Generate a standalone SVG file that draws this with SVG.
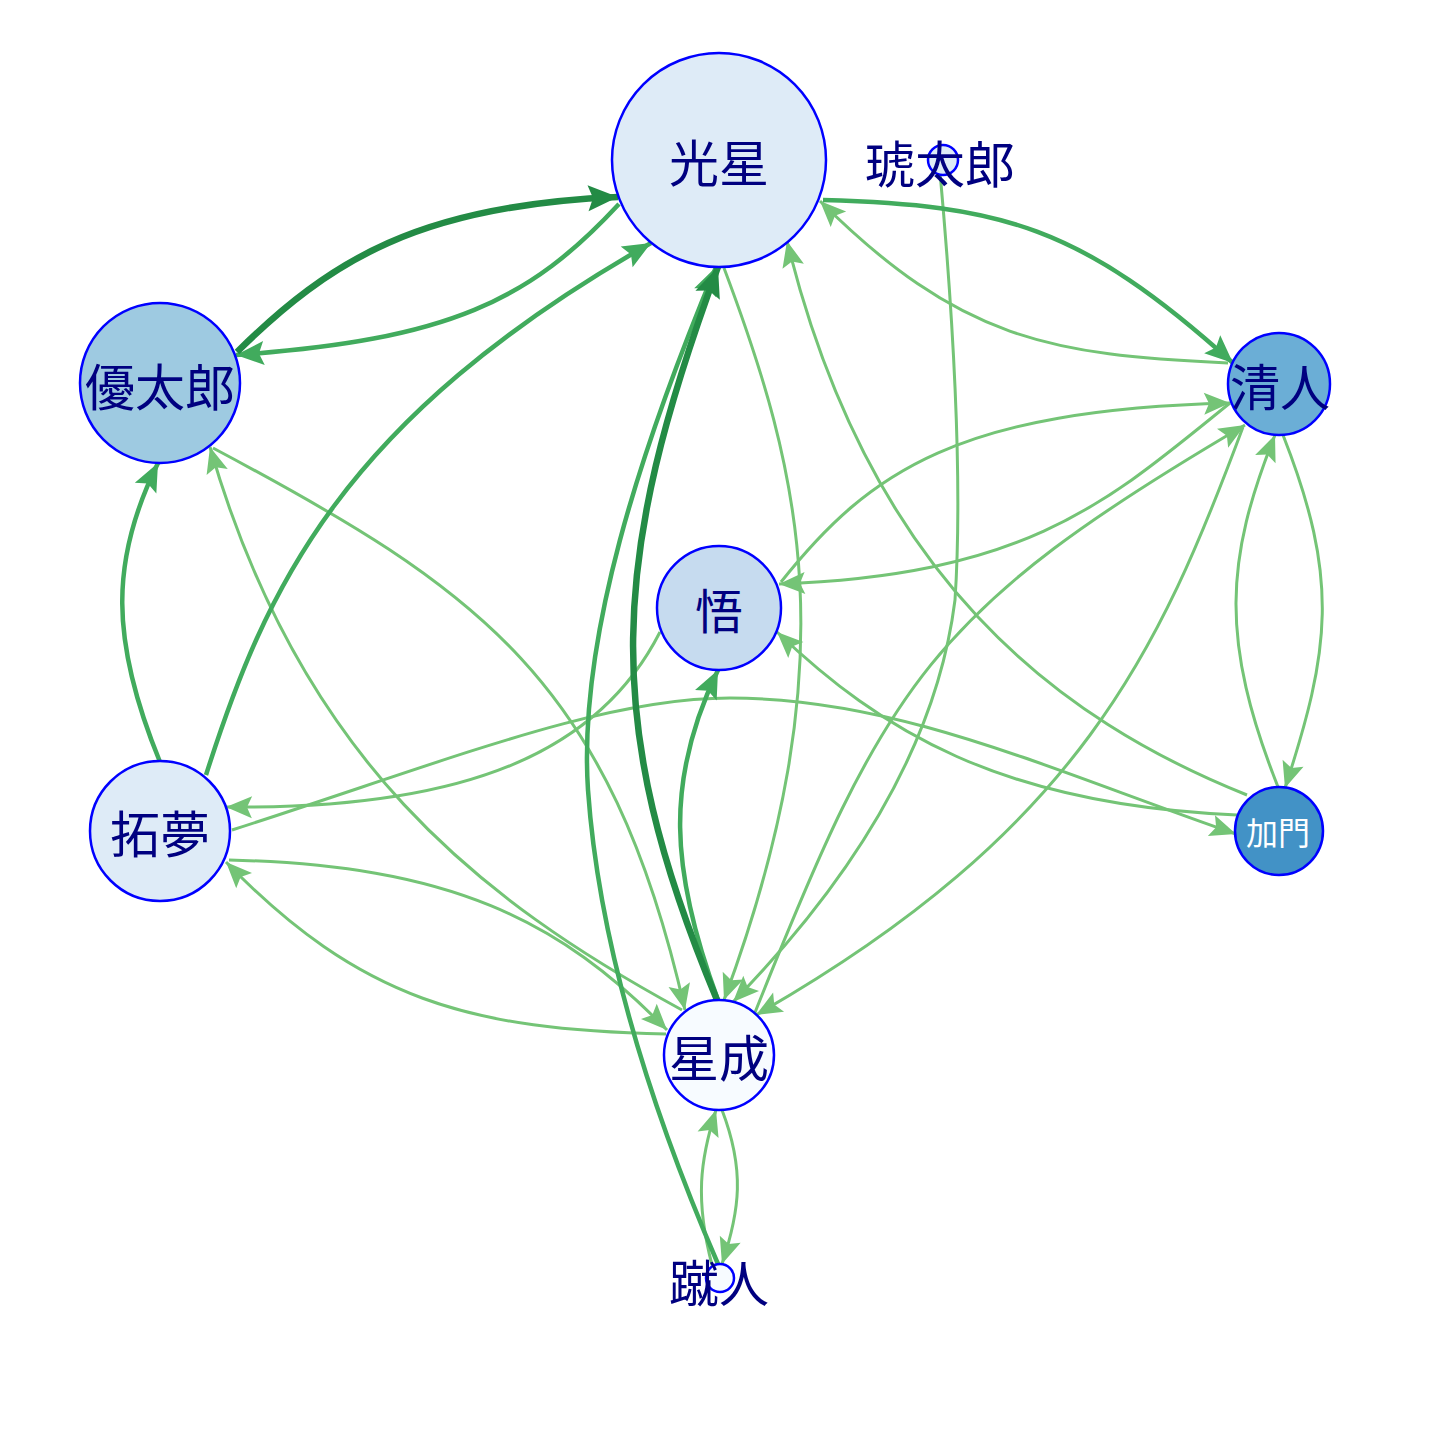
<svg xmlns="http://www.w3.org/2000/svg" width="1440" height="1440" viewBox="0 0 1440 1440">
<style>
.e{fill:none;stroke-linecap:butt}
.d{stroke:#238b45;stroke-width:6.5;marker-end:url(#aD)}
.m{stroke:#41ab5d;stroke-width:4.5;marker-end:url(#aM)}
.l{stroke:#74c476;stroke-width:3;marker-end:url(#aL)}
.n{stroke:#0000ff;stroke-width:2.5}
.t{font-family:"Noto Sans CJK JP","Noto Sans CJK SC",sans-serif;font-size:50px;fill:#000080;text-anchor:middle;dominant-baseline:central}
</style>
<defs>
<marker id="aD" viewBox="-32 -15 34 30" refX="0" refY="0" markerWidth="34" markerHeight="30" markerUnits="userSpaceOnUse" orient="auto"><path d="M0,0 L-30,-13 L-25,0 L-30,13 Z" fill="#238b45"/></marker>
<marker id="aM" viewBox="-30 -14 32 28" refX="0" refY="0" markerWidth="32" markerHeight="28" markerUnits="userSpaceOnUse" orient="auto"><path d="M0,0 L-28,-12 L-23,0 L-28,12 Z" fill="#41ab5d"/></marker>
<marker id="aL" viewBox="-28 -13 30 26" refX="0" refY="0" markerWidth="30" markerHeight="26" markerUnits="userSpaceOnUse" orient="auto"><path d="M0,0 L-26,-11 L-21,0 L-26,11 Z" fill="#74c476"/></marker>
</defs>
<rect width="1440" height="1440" fill="#ffffff"/>
<g id="connectors">
<path class="e l" d="M1228,363 C1050,355 960,340 820,201"/>
<path class="e l" d="M724,268 C800,470 850,660 724,1000"/>
<path class="e l" d="M1247,795 C1060,720 870,580 787,241"/>
<path class="e l" d="M1283,435 C1340,580 1330,650 1285,788"/>
<path class="e l" d="M1278,787 C1220,640 1225,560 1275,435"/>
<path class="e l" d="M1237,815 C1000,805 880,730 777,632"/>
<path class="e l" d="M232,830 C450,760 600,698 730,698 C900,698 1050,770 1236,834"/>
<path class="e l" d="M660,632 C600,750 470,810 226,807"/>
<path class="e l" d="M781,582 C870,470 960,410 1230,403"/>
<path class="e l" d="M1230,403 C1110,500 1030,575 779,584"/>
<path class="e l" d="M754,1015 C886,683 930,610 1245,425"/>
<path class="e l" d="M1243,427 C1160,650 1080,830 756,1015"/>
<path class="e l" d="M940,172 Q965,450 955,600 Q930,800 733,1002"/>
<path class="e l" d="M213,448 C480,590 610,680 685,1010"/>
<path class="e l" d="M682,1010 C480,900 300,760 210,447"/>
<path class="e l" d="M229,860 C450,865 560,920 667,1030"/>
<path class="e l" d="M666,1034 C470,1030 360,1000 226,862"/>
<path class="e l" d="M712,1265 C695,1200 700,1160 716,1110"/>
<path class="e l" d="M722,1110 C745,1170 740,1210 722,1264"/>
<path class="e m" d="M619,204 C530,300 450,340 236,355"/>
<path class="e m" d="M206,775 C265,590 340,420 651,243"/>
<path class="e m" d="M160,762 C110,640 110,560 158,463"/>
<path class="e m" d="M823,200 C1000,205 1080,225 1233,363"/>
<path class="e m" d="M718,1264 C660,1130 600,960 588,790 C578,640 640,450 716,267"/>
<path class="e m" d="M718,1000 C670,870 665,780 718,670"/>
<path class="e d" d="M237,352 C330,260 420,205 618,197"/>
<path class="e d" d="M717,1000 C600,720 610,560 718,267"/>
</g>
<g id="node-guangxing"><circle class="n" cx="719" cy="160" r="107" fill="#deebf7"/><text class="t" x="719" y="160">光星</text></g>
<g id="node-kotaro"><circle class="n" cx="943" cy="160" r="15" fill="#deebf7"/><text class="t" x="940" y="161">琥太郎</text></g>
<g id="node-yutaro"><circle class="n" cx="160" cy="383" r="80" fill="#9ecae1"/><text class="t" x="160" y="384">優太郎</text></g>
<g id="node-kiyoto"><circle class="n" cx="1279" cy="384" r="51" fill="#6baed6"/><text class="t" x="1280" y="384">清人</text></g>
<g id="node-satoru"><circle class="n" cx="719" cy="608" r="62" fill="#c6dbef"/><text class="t" x="719" y="608" style="font-size:48px">悟</text></g>
<g id="node-takumu"><circle class="n" cx="160" cy="831" r="70" fill="#deebf7"/><text class="t" x="160" y="831">拓夢</text></g>
<g id="node-kamon"><circle class="n" cx="1279" cy="831" r="44" fill="#4292c6"/><text class="t" x="1278" y="831" style="font-size:32px;fill:#ffffff">加門</text></g>
<g id="node-seina"><circle class="n" cx="719" cy="1055" r="55" fill="#f7fbff"/><text class="t" x="719" y="1055">星成</text></g>
<g id="node-shuto"><circle class="n" cx="720" cy="1278" r="14" fill="#f7fbff"/><text class="t" x="719" y="1280">蹴人</text></g>
</svg>
